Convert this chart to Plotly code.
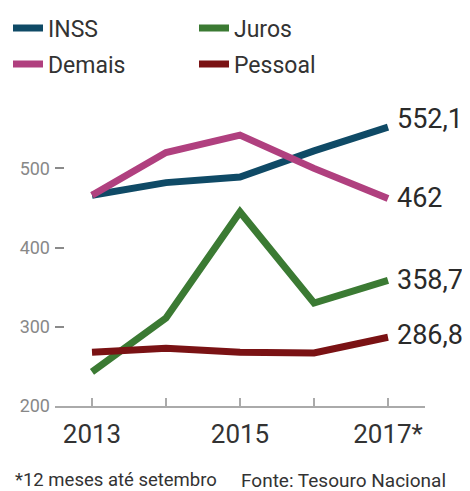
import plotly.graph_objects as go

years = [2013, 2014, 2015, 2016, 2017]
x_ticktext = ["2013", "", "2015", "", "2017*"]
inss = [466, 482, 489, 522, 552.1]
demais = [466, 520, 542, 500, 462]
juros = [243, 311, 445, 330, 358.7]
pessoal = [268, 273, 268, 267, 286.8]
end_labels = ["552,1", "462", "358,7", "286,8"]
y_ticks = [200, 300, 400, 500]

FONT = "Roboto, Open Sans, sans-serif"

# the page body adds an 8px margin, so the figure is 8px smaller
W, H = 462, 483
ML, MR, MT, MB = 45, 45, 97, 85
PW, PH = W - ML - MR, H - MT - MB


def px_to_paper(px, py):
    return (px - ML) / PW, (H - MB - py) / PH


# name, values, colour, legend id, legend left (fig px), legend row centre (fig px)
series = [
    ("INSS", inss, "#0f4a66", "legend", 0, 20),
    ("Juros", juros, "#3b7a33", "legend2", 186, 20),
    ("Demais", demais, "#b0407f", "legend3", 0, 56),
    ("Pessoal", pessoal, "#7a1214", "legend4", 186, 56),
]

fig = go.Figure()
for name, vals, color, lg, _, _ in series:
    fig.add_trace(go.Scatter(
        x=years, y=vals, name=name, mode="lines", legend=lg,
        line=dict(color=color, width=7),
    ))

label_map = {"INSS": (end_labels[0], 8), "Demais": (end_labels[1], 0),
             "Juros": (end_labels[2], 0), "Pessoal": (end_labels[3], 2)}
for name, vals, color, lg, _, _ in series:
    txt, ys = label_map[name]
    fig.add_annotation(x=years[-1], y=vals[-1], text=txt, showarrow=False,
                       xanchor="left", yanchor="middle", xshift=7, yshift=ys,
                       font=dict(size=27, color="#2a2a2a", family=FONT))

fx, fy = px_to_paper(3, 472)
fig.add_annotation(xref="paper", yref="paper", x=fx, y=fy, text="*12 meses até setembro",
                   showarrow=False, xanchor="left", yanchor="middle",
                   font=dict(size=18.5, color="#333", family=FONT))
fx2, _ = px_to_paper(230, 472)
fig.add_annotation(xref="paper", yref="paper", x=fx2, y=fy,
                   text="Fonte: Tesouro Nacional", showarrow=False,
                   xanchor="left", yanchor="middle",
                   font=dict(size=19, color="#333", family=FONT))

legend_common = dict(orientation="h", xref="container", yref="container",
                     xanchor="left", yanchor="middle",
                     font=dict(size=23, color="#333", family=FONT),
                     itemwidth=30, bgcolor="rgba(0,0,0,0)")

legends = {}
for name, vals, color, lg, lx, ly in series:
    legends[lg] = dict(legend_common, x=lx / W, y=1 - ly / H)

fig.update_layout(
    width=W, height=H,
    margin=dict(l=ML, r=MR, t=MT, b=MB),
    paper_bgcolor="white", plot_bgcolor="white",
    font=dict(family=FONT, color="#333"),
    showlegend=True,
    **legends,
    xaxis=dict(range=[2012.5, 2017.5], tickvals=years, ticktext=x_ticktext,
               showgrid=False, zeroline=False, showline=True, linecolor="#aaaaaa",
               linewidth=1.5, ticks="inside", ticklen=8, tickcolor="#aaaaaa",
               tickwidth=1.5, tickfont=dict(size=26, color="#333", family=FONT),
               ticklabelstandoff=4),
    yaxis=dict(range=[200, 580], tickvals=y_ticks, showgrid=False, zeroline=False,
               showline=False, ticks="inside", ticklen=9, tickcolor="#8a8a8a",
               tickwidth=2, tickfont=dict(size=18, color="#888", family=FONT),
               ticklabelstandoff=4),
)

fig.write_html("out.html")
